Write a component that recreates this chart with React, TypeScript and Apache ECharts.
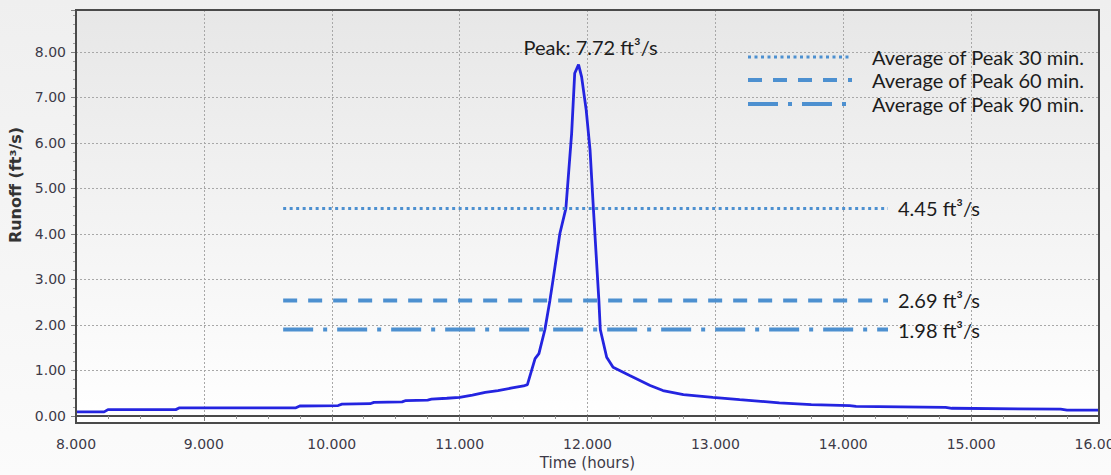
import React, { useEffect, useRef } from 'react';
import * as echarts from 'echarts';

// ---- data ----
const timeHours = [
  8.0, 8.22, 8.25, 8.78, 8.81, 9.72, 9.75, 10.05, 10.08, 10.3, 10.33, 10.55, 10.58, 10.75, 10.78,
  10.9, 11.0, 11.1, 11.2, 11.3, 11.4, 11.5, 11.53, 11.59, 11.62, 11.667, 11.706, 11.73, 11.784,
  11.831, 11.876, 11.9, 11.93, 11.954, 11.99, 12.02, 12.046, 12.089, 12.1, 12.15, 12.2, 12.33,
  12.49, 12.59, 12.75, 12.98, 13.19, 13.5, 13.75, 14.05, 14.1, 14.8, 14.85, 15.7, 15.75, 16.0,
];
const runoff = [
  0.09, 0.09, 0.14, 0.14, 0.18, 0.18, 0.22, 0.23, 0.26, 0.27, 0.3, 0.31, 0.34, 0.35, 0.37,
  0.39, 0.41, 0.46, 0.52, 0.56, 0.61, 0.66, 0.69, 1.26, 1.37, 1.9, 2.54, 2.98, 4.01,
  4.56, 6.21, 7.53, 7.72, 7.45, 6.72, 5.84, 4.56, 2.54, 1.9, 1.29, 1.07, 0.89,
  0.67, 0.56, 0.47, 0.41, 0.36, 0.29, 0.25, 0.23, 0.21, 0.19, 0.17, 0.15, 0.13, 0.13,
];
const peakTime = 11.93;
const peakValue = 7.72;

const avgNames = ['Average of Peak 30 min.', 'Average of Peak 60 min.', 'Average of Peak 90 min.'];
const avgLabels = ['4.45 ft³/s', '2.69 ft³/s', '1.98 ft³/s'];
const avgLevels = [4.56, 2.54, 1.9];
const avgStart = 9.62;
const avgEnd = 14.35;

const xMin = 8;
const xMax = 16;
const yMin = 0;
const yMax = 8.92;

// ---- styles ----
const W = 1111;
const H = 475;
const REF_COLOR = '#4d90d0';
const CURVE_COLOR = '#2424e0';
const TEXT_DARK = '#1c1c1c';
const AXIS_TEXT = '#3d3a48';
const ANNOT_FONT = 'Lato';
const ANNOT_SIZE = 20;
const dashStyles: any[] = [
  { width: 3, type: [3, 3.5] },
  { width: 4, type: [14, 11] },
  { width: 4, type: [30, 10, 4, 10] },
];

export default function App() {
  const ref = useRef<HTMLDivElement>(null);

  useEffect(() => {
    if (!ref.current) return;
    document.body.style.margin = '0';
    document.body.style.overflow = 'hidden';
    const chart = echarts.init(ref.current, null, { renderer: 'svg', width: W, height: H });

    const plotLeft = 76;
    const plotTop = 10;
    const plotRight = 1099;
    const plotBottom = 423;

    const legendRows = [57, 80, 104];
    const legendElements: any[] = [];
    avgNames.forEach((name, i) => {
      legendElements.push({
        type: 'line',
        z: 60,
        shape: { x1: 748, y1: legendRows[i], x2: 852, y2: legendRows[i] },
        style: { stroke: REF_COLOR, lineWidth: dashStyles[i].width, lineDash: dashStyles[i].type },
      });
      legendElements.push({
        type: 'text',
        z: 60,
        x: 872,
        y: legendRows[i],
        style: {
          text: name,
          fontFamily: ANNOT_FONT,
          fontSize: ANNOT_SIZE,
          fill: TEXT_DARK,
          align: 'left',
          verticalAlign: 'middle',
        },
      });
    });

    const refSeries = avgLevels.map((lvl, i) => ({
      type: 'line',
      name: avgNames[i],
      data: [
        [avgStart, lvl],
        [avgEnd, lvl],
      ],
      showSymbol: false,
      symbol: 'none',
      silent: true,
      z: 4,
      lineStyle: { color: REF_COLOR, width: dashStyles[i].width, type: dashStyles[i].type, cap: 'butt' },
      endLabel: {
        show: true,
        formatter: avgLabels[i],
        distance: 10,
        fontFamily: ANNOT_FONT,
        fontSize: ANNOT_SIZE,
        color: TEXT_DARK,
      },
    }));

    const isInt = (v: number) => Math.abs(v - Math.round(v)) < 1e-6;

    chart.setOption({
      animation: false,
      backgroundColor: new echarts.graphic.LinearGradient(0, 0, 0, 1, [
        { offset: 0, color: '#efefef' },
        { offset: 1, color: '#fbfbfb' },
      ]),
      grid: {
        left: plotLeft,
        right: W - plotRight,
        top: plotTop,
        bottom: H - 416,
        containLabel: false,
        outerBoundsMode: 'none',
      },
      xAxis: {
        type: 'value',
        min: xMin,
        max: xMax,
        interval: 1,
        offset: 7,
        name: 'Time (hours)',
        nameLocation: 'middle',
        nameGap: 32,
        nameTextStyle: { fontFamily: 'DejaVu Sans', fontSize: 15, color: AXIS_TEXT },
        axisLine: { show: true, lineStyle: { color: '#4a4a4a', width: 2 } },
        axisTick: { show: true, length: 5, lineStyle: { color: '#808080' } },
        minorTick: { show: true, splitNumber: 4, length: 3, lineStyle: { color: '#909090' } },
        axisLabel: {
          formatter: (v: number) => v.toFixed(3),
          margin: 14,
          fontFamily: 'DejaVu Sans',
          fontSize: 14,
          color: AXIS_TEXT,
        },
        splitLine: { show: true, lineStyle: { color: '#a8a8a8', type: [2, 2], width: 1 } },
      },
      yAxis: {
        type: 'value',
        min: yMin,
        max: yMax,
        interval: 1,
        name: 'Runoff (ft³/s)',
        nameLocation: 'middle',
        nameGap: 50,
        nameTextStyle: {
          fontFamily: 'DejaVu Sans',
          fontSize: 16,
          fontWeight: 'bold',
          color: '#333',
          padding: [0, 0, 0, 56],
        },
        axisLine: { show: true, lineStyle: { color: '#4a4a4a', width: 2 } },
        axisTick: { show: true, length: 5, lineStyle: { color: '#808080' } },
        minorTick: { show: true, splitNumber: 5, length: 3, lineStyle: { color: '#a0a0a0' } },
        axisLabel: {
          formatter: (v: number) => (isInt(v) ? v.toFixed(2) : ''),
          showMaxLabel: false,
          margin: 10,
          fontFamily: 'DejaVu Sans',
          fontSize: 14,
          color: AXIS_TEXT,
        },
        splitLine: { show: true, lineStyle: { color: '#a8a8a8', type: [2, 2], width: 1 } },
      },
      graphic: [
        {
          type: 'rect',
          z: -10,
          silent: true,
          shape: { x: plotLeft, y: plotTop, width: plotRight - plotLeft, height: plotBottom - plotTop },
          style: {
            fill: new echarts.graphic.LinearGradient(0, 0, 0, 1, [
              { offset: 0, color: '#e7e7e7' },
              { offset: 1, color: '#ffffff' },
            ]),
          },
        },
        {
          type: 'rect',
          z: 100,
          silent: true,
          shape: { x: plotLeft, y: plotTop, width: plotRight - plotLeft, height: plotBottom - plotTop },
          style: { fill: 'transparent', stroke: '#4a4a4a', lineWidth: 2 },
        },
        ...legendElements,
      ],
      series: [
        {
          type: 'line',
          name: 'Runoff',
          data: timeHours.map((t, i) => [t, runoff[i]]),
          showSymbol: false,
          symbol: 'none',
          z: 3,
          lineStyle: { color: CURVE_COLOR, width: 2.8 },
          markPoint: {
            symbol: 'circle',
            symbolSize: 0,
            silent: true,
            data: [{ coord: [peakTime, peakValue], name: 'Peak' }],
            label: {
              show: true,
              position: 'top',
              distance: 8,
              offset: [12, 0],
              formatter: 'Peak: ' + peakValue.toFixed(2) + ' ft³/s',
              fontFamily: ANNOT_FONT,
              fontSize: ANNOT_SIZE,
              color: TEXT_DARK,
            },
          },
        },
        ...refSeries,
      ],
    });

    return () => chart.dispose();
  }, []);

  return (
    <div
      ref={ref}
      style={{ position: 'fixed', left: 0, top: 0, width: W, height: H }}
    />
  );
}
